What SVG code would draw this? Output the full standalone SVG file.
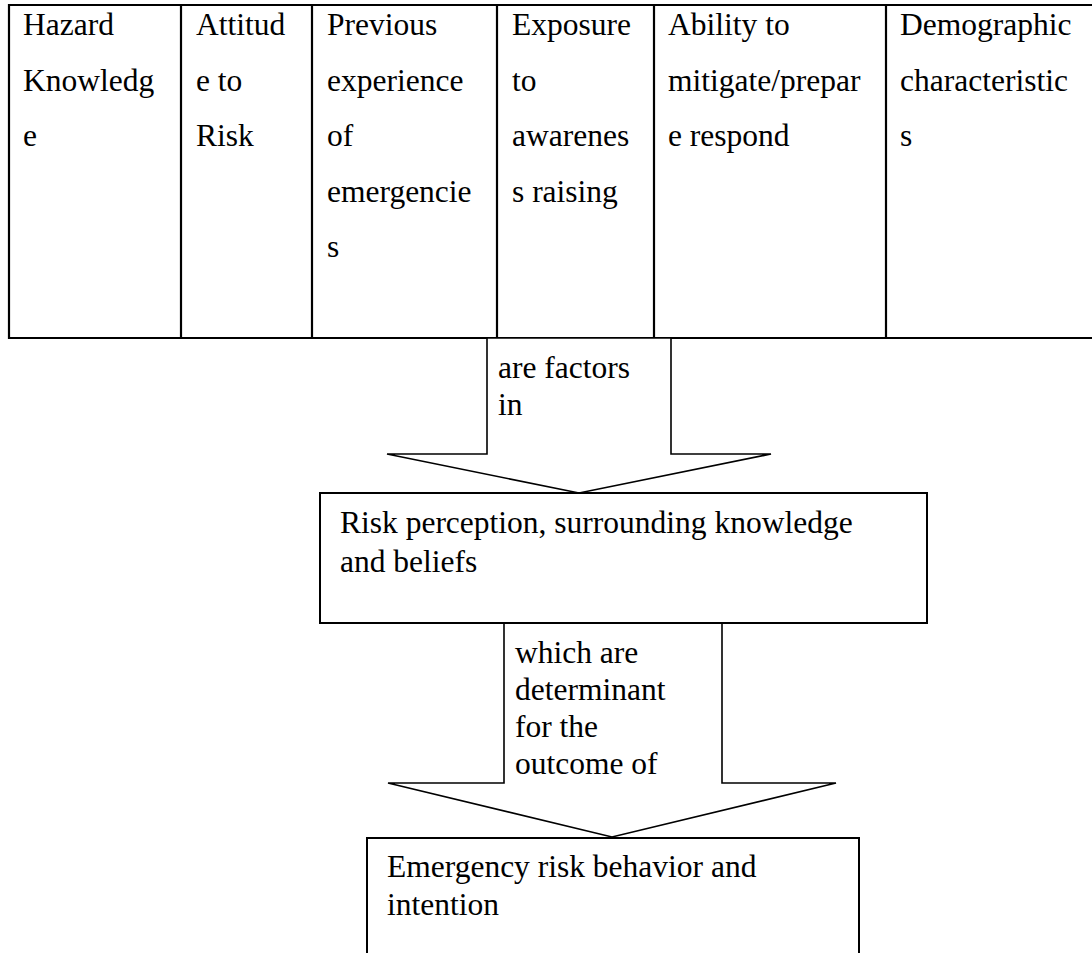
<svg xmlns="http://www.w3.org/2000/svg" width="1092" height="953" viewBox="0 0 1092 953">
<style>
text{font-family:"Liberation Serif","Times New Roman",serif;font-size:31.5px;fill:#000}
.tbl{stroke:#000;stroke-width:2.2;fill:none}
.box{stroke:#000;stroke-width:2;fill:#fff}
.arr{stroke:#000;stroke-width:1.6;fill:#fff;stroke-linejoin:miter}
</style>
<rect width="1092" height="953" fill="#fff"/>
<g id="table">
<path class="tbl" d="M1100,5 H9 V338 H1100 M181,5 V338 M312,5 V338 M497,5 V338 M654,5 V338 M886,5 V338"/>
<text x="23" y="35">Hazard</text>
<text x="23" y="91">Knowledg</text>
<text x="23" y="146">e</text>
<text x="196" y="35">Attitud</text>
<text x="196" y="91">e to</text>
<text x="196" y="146">Risk</text>
<text x="327" y="35">Previous</text>
<text x="327" y="91">experience</text>
<text x="327" y="146">of</text>
<text x="327" y="202">emergencie</text>
<text x="327" y="257">s</text>
<text x="512" y="35">Exposure</text>
<text x="512" y="91">to</text>
<text x="512" y="146">awarenes</text>
<text x="512" y="202">s raising</text>
<text x="668" y="35">Ability to</text>
<text x="668" y="91">mitigate/prepar</text>
<text x="668" y="146">e respond</text>
<text x="900" y="35">Demographic</text>
<text x="900" y="91">characteristic</text>
<text x="900" y="146">s</text>
</g>
<g id="connectors">
<polygon class="arr" points="487,338 487,454 387,454 579,493 771,454 671,454 671,338"/>
<text x="498" y="378">are factors</text>
<text x="498" y="415">in</text>
<polygon class="arr" points="504,623 504,783 388,783 612,837 836,783 722,783 722,623"/>
<text x="515" y="663">which are</text>
<text x="515" y="700">determinant</text>
<text x="515" y="737">for the</text>
<text x="515" y="774">outcome of</text>
</g>
<g id="node-risk-perception">
<rect class="box" x="320" y="493" width="607" height="130"/>
<text x="340" y="533">Risk perception, surrounding knowledge</text>
<text x="340" y="572">and beliefs</text>
</g>
<g id="node-behavior">
<rect class="box" x="367" y="838" width="492" height="130"/>
<text x="387" y="877">Emergency risk behavior and</text>
<text x="387" y="915">intention</text>
</g>
</svg>
